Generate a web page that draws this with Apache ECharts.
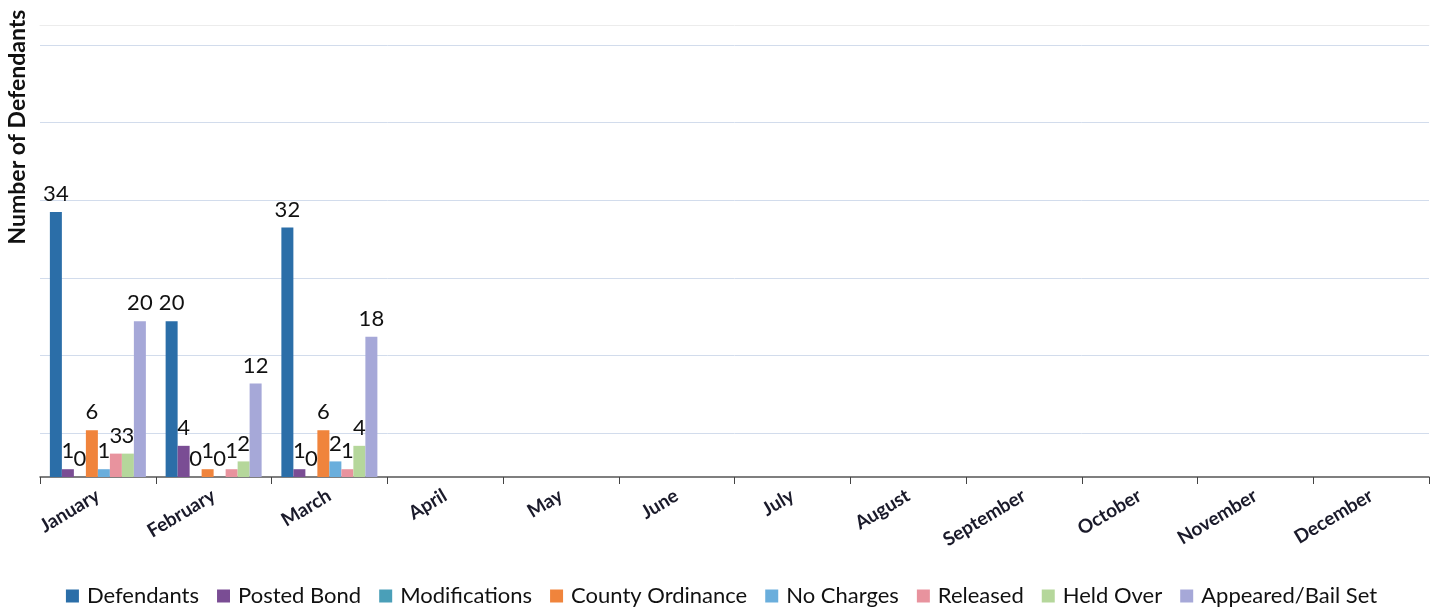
<!DOCTYPE html>
<html>
<head>
<meta charset="utf-8">
<script src="https://cdn.jsdelivr.net/npm/echarts@6/dist/echarts.min.js"></script>
<style>
html,body{margin:0;padding:0;background:#fff;}
#chart{width:1443px;height:616px;}
</style>
</head>
<body>
<div id="chart"></div>
<script>
const months = ['January','February','March','April','May','June','July','August','September','October','November','December'];
const seriesNames = ['Defendants','Posted Bond','Modifications','County Ordinance','No Charges','Released','Held Over','Appeared/Bail Set'];
const defendants      = [34, 20, 32];
const postedBond      = [1, 4, 1];
const modifications   = [0, 0, 0];
const countyOrdinance = [6, 1, 6];
const noCharges       = [1, 0, 2];
const released        = [3, 1, 1];
const heldOver        = [3, 2, 4];
const appearedBailSet = [20, 12, 18];
const colors = ['#2B6EA8','#7A4D94','#4A9FB8','#F0843C','#6AAEDC','#E8939E','#B5D79B','#A6A8D8'];
const allData = [defendants, postedBond, modifications, countyOrdinance, noCharges, released, heldOver, appearedBailSet];

const FONT = 'Lato';
const chart = echarts.init(document.getElementById('chart'), null, {renderer:'canvas'});
const series = seriesNames.map((name, i) => ({
  name: name,
  type: 'bar',
  xAxisIndex: 0,
  yAxisIndex: 0,
  data: allData[i],
  barGap: '0%',
  barWidth: 12,
  itemStyle: {color: colors[i]},
  label: {
    show: true,
    position: 'top',
    distance: 7,
    color: '#111',
    fontFamily: FONT,
    fontSize: 22
  }
}));

chart.setOption({
  animation: false,
  backgroundColor: '#ffffff',
  color: colors,
  grid: [
    {left: 40, right: 14, top: 25, bottom: 139},
    {left: 40, right: 14, top: 45, bottom: 183}
  ],
  xAxis: [
    {
      type: 'category', gridIndex: 0, data: months,
      axisLine: {lineStyle: {color: '#555', width: 1.5}},
      axisTick: {show: true, length: 7, lineStyle: {color: '#444'}},
      axisLabel: {rotate: 31, margin: 17, color: '#1a1a2a', fontFamily: FONT, fontSize: 19, fontWeight: 'bold', interval: 0}
    },
    {
      type: 'category', gridIndex: 0, data: months, position: 'top',
      axisLine: {lineStyle: {color: '#ececec'}}, axisTick: {show: false}, axisLabel: {show: false}
    },
    {
      type: 'category', gridIndex: 1, data: months, show: false
    }
  ],
  yAxis: [
    {
      type: 'value', gridIndex: 0, min: 0, max: 58,
      axisLine: {show: false}, axisTick: {show: false}, axisLabel: {show: false}, splitLine: {show: false}
    },
    {
      type: 'value', gridIndex: 1, min: 0, max: 50, interval: 10,
      axisLine: {show: false}, axisTick: {show: false}, axisLabel: {show: false},
      splitLine: {show: true, lineStyle: {color: '#d2dcec', width: 1}}
    }
  ],
  legend: {
    bottom: 4,
    left: 'center',
    itemWidth: 13,
    itemHeight: 13,
    itemGap: 18,
    icon: 'rect',
    textStyle: {fontFamily: FONT, fontSize: 22, color: '#111', padding: [0, 0, 0, 3]},
    data: seriesNames
  },
  graphic: [{
    type: 'text',
    x: 18, y: 127,
    rotation: Math.PI / 2,
    style: {
      text: 'Number of Defendants',
      x: 0, y: 0,
      align: 'center', verticalAlign: 'middle',
      font: 'bold 23px ' + FONT,
      fill: '#111'
    }
  }],
  series: series
});
</script>
</body>
</html>
